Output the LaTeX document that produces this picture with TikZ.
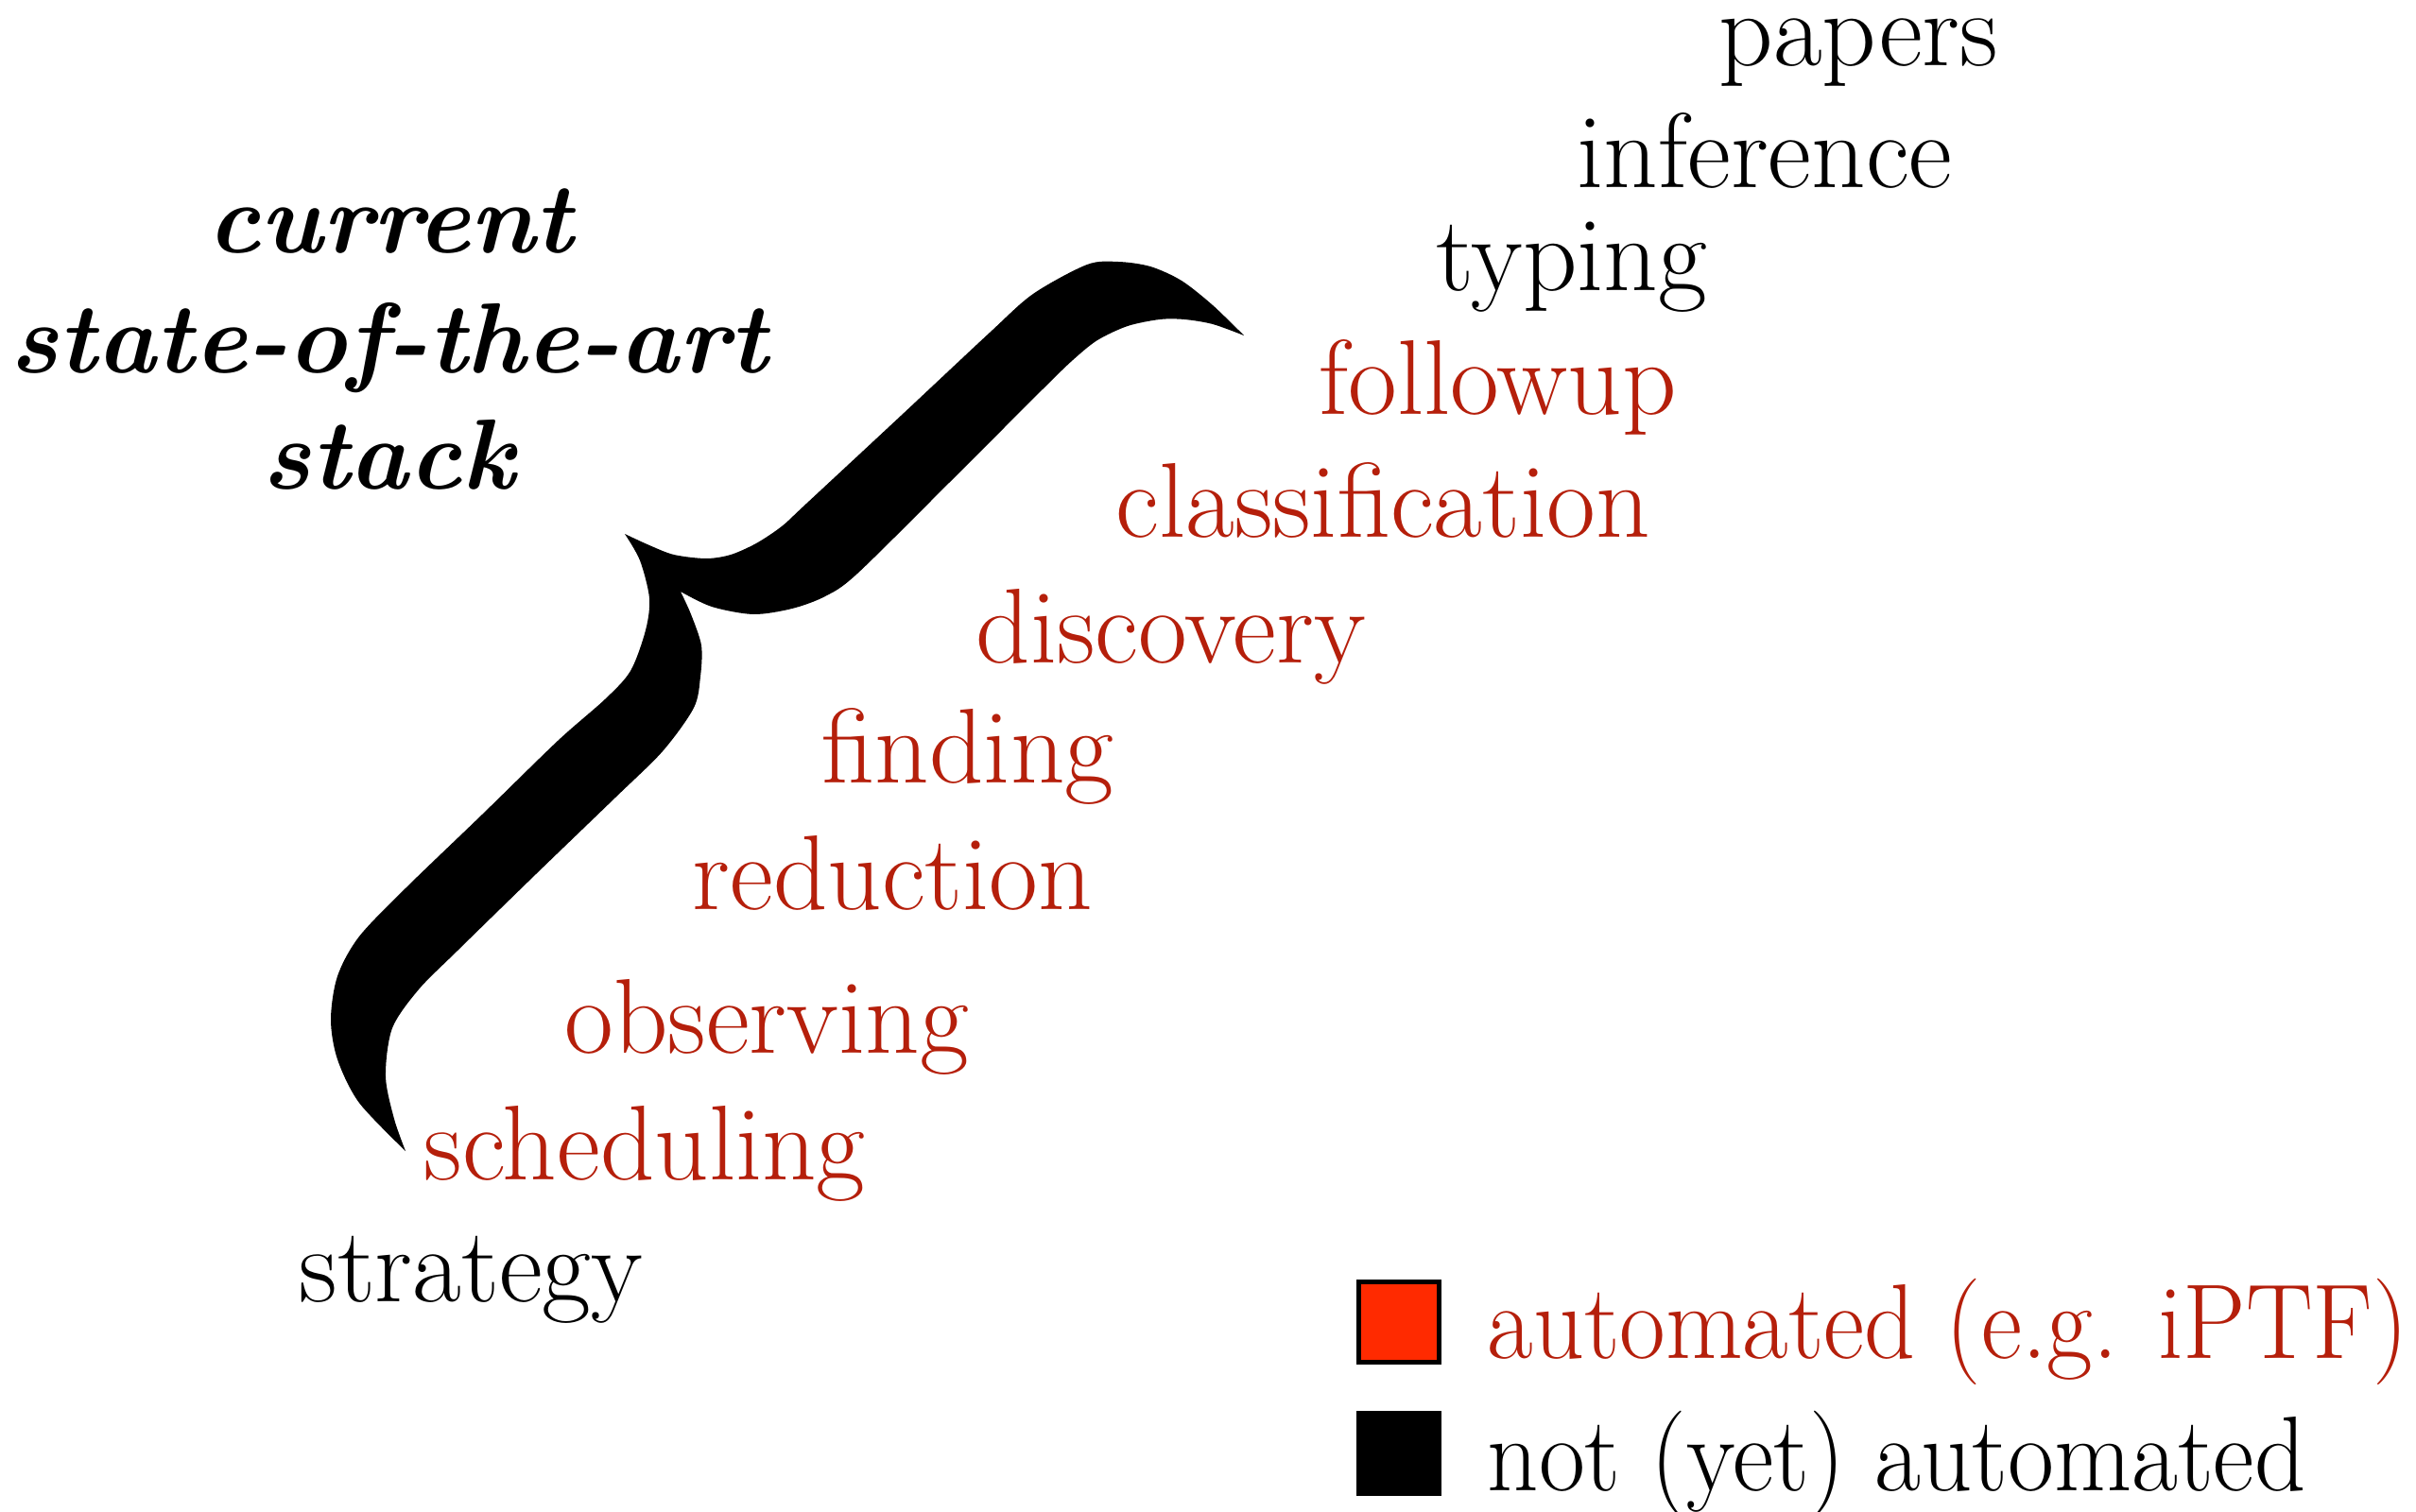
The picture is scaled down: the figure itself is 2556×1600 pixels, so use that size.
\documentclass[tikz,border=0pt]{standalone}
\usepackage{fontspec}
\usepackage{graphicx}
\usepackage{tikz}
\definecolor{autored}{HTML}{B51F0B}
\definecolor{keyred}{HTML}{FF2A00}
\tikzset{
  stage/.style={anchor=base west, inner sep=0pt, font=\fontsize{32}{38}\selectfont},
  autostage/.style={stage, text=autored},
  todostage/.style={stage, text=black},
  headline/.style={anchor=base, inner sep=0pt, font=\fontsize{30}{36}\selectfont\bfseries\itshape},
  keybox/.style={draw=black, line width=1.5pt, minimum size=0.85cm, inner sep=0pt},
}

\begin{document}
\begin{tikzpicture}[x=0.01cm, y=-0.01cm]
  \useasboundingbox (0,0) rectangle (2556,1600);

  % title
  \node[headline] (cur)   at (413,268) {current};
  \node[headline] (sota)  at (411,395) {state-of-the-art};
  \node[headline] (stack) at (411,518) {stack};

  % the big brace
  \fill plot[smooth] coordinates {(429,1218) (380,1167) (357,1121) (350,1079) (357,1033) (380,991) (430,939) (510,862) (590,784) (640,740) (667,710) (683,667) (687,633) (677,593) (661,565)}
    -- plot[smooth] coordinates {(661,565) (687,577) (713,587) (747,591) (773,587) (800,575) (827,557) (853,533) (953,440) (1047,352) (1093,311) (1150,280) (1183,277) (1217,282) (1250,297) (1283,323) (1316,355)}
    -- plot[smooth] coordinates {(1316,355) (1283,343) (1253,338) (1227,338) (1193,345) (1161,360) (1135,381) (1104,411) (1006,509) (907,607) (873,631) (838,644) (797,650) (753,642) (720,626)}
    -- plot[smooth] coordinates {(720,626) (731,650) (742,683) (741,716) (734,749) (701,795) (651,844) (567,925) (484,1006) (443,1047) (415,1088) (408,1139) (417,1184) (429,1218)}
    -- cycle;

  % the stack
  \node[todostage] (papers)    at (1818,70)   {papers};
  \node[todostage] (inference) at (1668,199)  {inference};
  \node[todostage] (typing)    at (1519,308)  {typing};
  \node[autostage] (followup)  at (1395,439)  {followup};
  \node[autostage] (classif)   at (1180,568)  {classification};
  \node[autostage] (discovery) at (1032,702)  {discovery};
  \node[autostage] (finding)   at (869,828)   {finding};
  \node[autostage] (reduction) at (732,962)   {reduction};
  \node[autostage] (observing) at (597,1114)  {observing};
  \node[autostage] (sched)     at (448,1248)  {scheduling};
  \node[todostage] (strategy)  at (316,1377)  {strategy};

  % legend
  \node[keybox, fill=keyred] (autokey) at (1480,1399) {};
  \node[keybox, fill=black]  (todokey) at (1480,1538) {};
  \node[autostage] (autolabel) at (1573,1437) {\scalebox{0.94}[1]{automated (e.g. iPTF)}};
  \node[todostage] (todolabel) at (1573,1577) {\scalebox{0.945}[1]{not (yet) automated}};
\end{tikzpicture}
\end{document}
